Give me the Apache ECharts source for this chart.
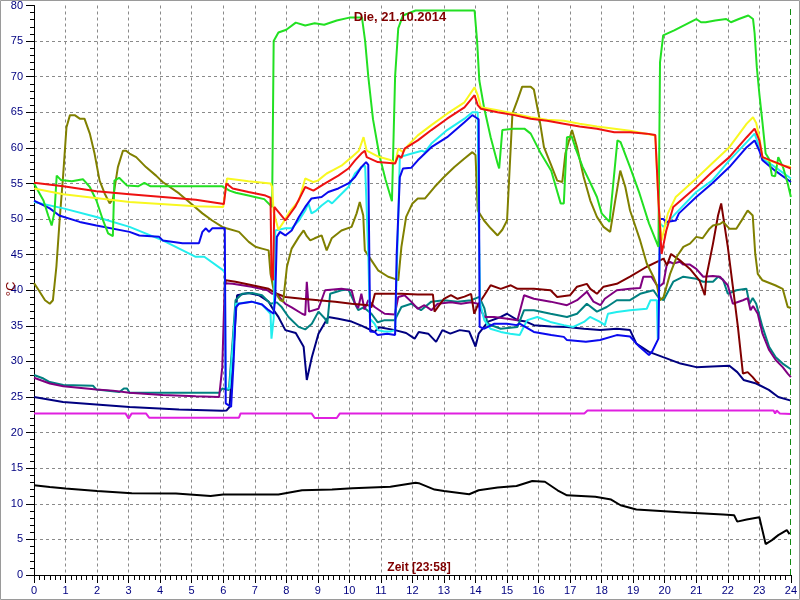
<!DOCTYPE html>
<html>
<head>
<meta charset="utf-8">
<script src="https://cdn.jsdelivr.net/npm/echarts@6/dist/echarts.min.js"></script>
<style>
html,body{margin:0;padding:0;background:#fff;}
#chart{width:800px;height:600px;}
</style>
</head>
<body>
<div id="chart"></div>
<script>
// ---- data: [hour, °C] ----
var titleText = 'Die, 21.10.2014';
var xName = 'Zeit [23:58]';
var yName = '°C';
var nowHour = 23.967;

var green = [[0,55],[0.3,52.6],[0.45,50.5],[0.56,49.1],[0.65,51],[0.72,56.1],[0.85,55.5],[1.2,55.3],[1.55,55.6],[1.77,54.5],[1.98,52.6],[2.19,49.8],[2.35,48.0],[2.5,47.6],[2.55,55.4],[2.7,55.8],[2.95,54.7],[3.3,54.6],[3.5,55.1],[3.7,54.6],[4.5,54.6],[5.97,54.6],[6.2,54.0],[6.4,53.7],[6.8,53.3],[7.0,53.1],[7.3,52.8],[7.55,51.7],[7.6,75],[7.75,76.2],[8.0,76.6],[8.3,77.6],[8.6,77.2],[8.9,77.5],[9.2,77.3],[9.6,77.9],[10.0,78.3],[10.4,78.3],[10.5,75],[10.6,70],[10.75,64],[10.95,59],[11.15,55.5],[11.35,52.5],[11.45,70],[11.55,76.8],[11.7,78.6],[12.1,79.3],[13.97,79.3],[14.05,75],[14.12,69.5],[14.27,65.7],[14.48,61.5],[14.7,57.8],[14.75,57.1],[14.85,62.5],[15.2,62.7],[15.55,62.7],[15.75,62.0],[16.05,59.4],[16.4,56.8],[16.7,52.2],[16.8,52.2],[16.9,61.5],[17.05,61.6],[17.2,59.6],[17.4,57.3],[17.65,55.0],[17.85,53.1],[18.0,50.8],[18.25,49.6],[18.5,61.05],[18.6,60.8],[18.9,57.3],[19.2,53.6],[19.5,49.4],[19.8,46.1],[19.85,72],[19.95,75.8],[20.3,76.5],[21.0,78.1],[21.15,77.65],[21.3,77.65],[21.6,77.9],[21.95,78.1],[22.1,77.65],[22.35,78.1],[22.65,78.6],[22.8,78.1],[22.85,76.1],[22.92,71.3],[23.0,67.6],[23.1,63.5],[23.2,59.2],[23.3,58.5],[23.4,56.1],[23.5,56.0],[23.6,58.7],[23.75,57.3],[23.9,55.0],[24,53.1]];

var yellow = [[0,54.3],[0.93,53.5],[3.03,52.4],[5.13,51.8],[6.0,51.7],[6.05,51.8],[6.12,55.7],[6.5,55.5],[6.8,55.3],[7.5,55.0],[7.55,54.5],[7.6,51],[7.75,48.5],[7.9,49.5],[8.1,51],[8.4,52.6],[8.6,55.7],[8.86,55.2],[9.0,55.4],[9.28,56.4],[9.5,56.9],[9.75,57.5],[10.07,58.7],[10.3,59.6],[10.45,61.5],[10.55,59.6],[10.9,58.8],[11.3,58.3],[11.45,57.8],[11.55,59.9],[11.7,59.4],[11.86,60.35],[12.17,61.75],[12.6,63.2],[13.1,64.8],[13.65,66.4],[13.97,68.5],[14.07,67.4],[14.17,65.7],[14.7,65.3],[15.23,64.8],[15.75,64.3],[16.27,63.95],[16.8,63.8],[17.3,63.4],[17.85,63.0],[18.9,62.4],[19.7,61.75],[19.8,52.6],[19.9,47.0],[20.1,50.8],[20.35,53.1],[21.0,55.7],[21.5,57.8],[22.05,60.1],[22.6,63.4],[22.8,64.3],[22.9,63.5],[23.0,61.5],[23.1,58.7],[23.3,58.25],[23.75,57.5],[24,57.3]];

var red = [[0,55.1],[0.93,54.6],[1.98,53.9],[3.03,53.5],[4.08,53.1],[5.13,52.7],[6.02,52.1],[6.1,55.0],[6.3,54.3],[6.8,53.8],[7.34,53.3],[7.5,53.0],[7.53,42],[7.58,41.4],[7.62,51.7],[7.97,49.8],[8.28,51.7],[8.6,54.5],[8.86,54.0],[9.23,55.0],[9.65,56.1],[9.97,57.1],[10.18,58.25],[10.38,59.2],[10.49,59.6],[10.55,58.7],[10.9,58.0],[11.45,57.8],[11.55,58.95],[11.65,58.6],[11.75,59.9],[12.17,61.05],[12.6,62.5],[13.1,64.1],[13.65,65.7],[13.97,67.4],[14.07,66.0],[14.17,65.5],[14.7,65.0],[15.23,64.6],[15.75,64.1],[16.27,63.8],[16.8,63.4],[17.3,63.0],[17.85,62.7],[18.4,62.2],[18.9,62.2],[19.43,62.0],[19.7,61.8],[19.8,52.6],[19.9,45.1],[20.05,48.4],[20.27,51.7],[21.0,54.5],[21.5,56.6],[22.05,58.7],[22.6,61.5],[22.85,62.7],[23.0,61.05],[23.1,58.7],[23.5,58.0],[24,57.1]];

var blue = [[0,52.6],[0.5,51.5],[0.8,50.5],[1.45,49.6],[1.98,49.1],[3.03,48.2],[3.34,47.7],[3.97,47.5],[4.08,47.0],[4.71,46.6],[5.23,46.6],[5.34,48.2],[5.45,48.7],[5.55,48.2],[5.65,48.7],[6.05,48.7],[6.08,24.1],[6.25,23.6],[6.33,30],[6.4,37.6],[6.5,38.1],[6.9,38.4],[7.23,38.0],[7.44,37.2],[7.6,36.7],[7.65,39],[7.7,47.5],[7.8,48.2],[7.97,47.7],[8.17,48.4],[8.4,50.3],[8.6,51.7],[8.8,52.9],[9.12,53.1],[9.33,53.8],[9.65,54.3],[9.97,55.0],[10.18,55.9],[10.38,57.3],[10.53,58.0],[10.6,57.6],[10.66,34.2],[10.8,34.15],[10.9,33.7],[11.2,33.9],[11.45,33.7],[11.5,45],[11.6,55.9],[11.7,57.1],[11.96,57.2],[12.17,58.25],[12.6,60.1],[13.1,61.5],[13.65,63.6],[13.9,64.6],[14.0,64.3],[14.1,64],[14.13,34.85],[14.28,34.6],[14.6,35.3],[15.0,35.3],[15.3,35.1],[15.4,35.3],[15.85,34.15],[16.4,33.7],[16.8,33.45],[16.9,33.0],[17.5,32.75],[17.95,33.0],[18.48,33.7],[18.9,33.5],[19.2,32.05],[19.5,30.9],[19.6,31.4],[19.8,33.2],[19.85,50.0],[19.95,50.0],[20.05,49.6],[20.35,49.8],[20.45,50.8],[21.0,53.1],[21.5,55.0],[22.05,57.3],[22.6,60.1],[22.85,61.05],[23.0,59.6],[23.1,58.25],[23.5,56.8],[24,55.2]];

var cyan = [[0,52.4],[0.93,51.5],[1.98,50.3],[3.03,48.9],[4.08,47.0],[5.13,44.7],[5.4,44.7],[5.97,42.9],[6.05,42.5],[6.08,26.2],[6.2,26.2],[6.3,32],[6.4,38.1],[6.9,38.4],[7.23,38.0],[7.5,36.7],[7.53,33.2],[7.6,36],[7.65,48.4],[7.97,48.7],[8.17,48.7],[8.4,49.8],[8.6,51.2],[8.7,52.2],[8.8,50.8],[8.95,51.2],[9.12,51.9],[9.33,52.6],[9.45,52.2],[9.65,53.1],[9.97,54.5],[10.18,56.4],[10.38,57.3],[10.5,57.5],[10.6,45],[10.65,36.0],[10.8,35.3],[10.9,34.4],[11.1,34.2],[11.3,34.2],[11.45,34.4],[11.55,50],[11.6,58.7],[11.9,59.1],[12.3,59.6],[12.4,59.4],[12.6,60.6],[13.1,62.5],[13.65,64.1],[13.9,65.0],[14.07,65.0],[14.1,50],[14.15,38.1],[14.28,35.8],[14.47,34.6],[14.8,34.15],[15.1,33.9],[15.4,33.7],[15.5,34.6],[15.64,35.8],[15.96,36.25],[16.37,35.55],[16.8,35.1],[17.1,34.85],[17.44,35.55],[17.63,36.25],[17.95,35.55],[18.1,35.1],[18.2,36.7],[18.48,36.95],[18.9,37.2],[19.43,37.4],[19.55,38.6],[19.75,38.6],[19.78,33.2],[19.82,40],[19.85,49.4],[19.96,48.9],[20.35,50.8],[21.0,53.8],[21.5,55.4],[22.05,58.25],[22.6,60.8],[22.85,62.0],[23.0,60.1],[23.1,58.5],[23.5,57.3],[24,55.7]];

var olive = [[0,41.0],[0.15,40.0],[0.35,38.6],[0.5,38.1],[0.6,38.6],[0.71,43.3],[0.82,50.3],[0.92,55.9],[1.03,62.9],[1.14,64.6],[1.29,64.6],[1.45,64.1],[1.6,64.1],[1.77,62.0],[1.92,59.2],[2.08,55.4],[2.24,53.6],[2.4,52.2],[2.5,52.8],[2.66,57.3],[2.82,59.6],[2.92,59.6],[3.03,59.2],[3.24,58.7],[3.55,57.3],[3.87,56.1],[4.08,55.2],[4.6,53.6],[4.92,52.4],[5.34,50.8],[5.65,49.8],[5.97,48.9],[6.1,48.7],[6.5,48.2],[6.81,46.8],[7.02,46.1],[7.23,45.85],[7.44,45.6],[7.5,42.3],[7.6,40.0],[7.81,38.6],[7.9,38.4],[8.02,43.3],[8.17,45.85],[8.4,47.5],[8.55,48.4],[8.65,47.6],[8.76,47.0],[8.9,47.3],[9.12,47.7],[9.28,45.6],[9.44,47.3],[9.75,48.4],[10.07,48.9],[10.23,50.8],[10.33,52.4],[10.44,50.5],[10.49,45.6],[10.7,44.2],[10.91,42.8],[11.23,41.9],[11.44,41.6],[11.55,41.4],[11.65,46.1],[11.8,50.3],[12.0,52.2],[12.17,52.9],[12.4,52.9],[12.7,54.5],[13.0,55.9],[13.33,57.3],[13.65,58.5],[13.9,59.4],[14.0,59.0],[14.07,51.2],[14.27,49.8],[14.48,48.7],[14.7,47.7],[14.85,48.5],[15.0,49.8],[15.17,64.8],[15.33,66.7],[15.48,68.6],[15.75,68.6],[15.85,68.2],[16.0,64.8],[16.17,60.1],[16.38,57.8],[16.59,55.4],[16.75,55.2],[16.85,59.2],[17.06,62.5],[17.22,60.1],[17.43,55.9],[17.64,52.6],[17.85,50.3],[18.06,48.9],[18.27,48.2],[18.43,52.6],[18.59,56.8],[18.75,54.5],[18.9,51.2],[19.22,47.0],[19.43,43.75],[19.64,41.9],[19.75,40.7],[19.85,38.6],[19.96,39.0],[20.17,42.3],[20.38,44.7],[20.59,46.1],[20.8,46.55],[21.0,47.5],[21.2,47.3],[21.42,48.65],[21.53,49.1],[21.75,49.3],[21.85,49.6],[22.05,48.65],[22.27,48.65],[22.48,50.1],[22.63,51.2],[22.79,50.5],[22.87,45.1],[22.95,42.3],[23.1,41.4],[23.5,40.7],[23.74,40.2],[23.9,37.65],[24,37.5]];

var navy = [[0,25.0],[0.92,24.3],[3.03,23.6],[4.6,23.25],[5.97,23.06],[6.1,23.1],[6.2,23.6],[6.3,30],[6.44,39.3],[6.8,39.6],[7.13,39.3],[7.44,38.4],[7.6,37.2],[7.75,36.25],[7.97,34.4],[8.3,34.0],[8.55,32.05],[8.65,27.4],[8.81,30.6],[9.02,33.9],[9.33,36.25],[9.65,36.0],[10.07,35.6],[10.4,35.0],[10.8,34.15],[10.95,34.8],[11.45,34.4],[11.8,34.0],[12.07,33.2],[12.2,34.15],[12.5,33.9],[12.75,32.75],[12.95,34.4],[13.2,33.9],[13.5,34.4],[13.8,34.2],[14.0,32.1],[14.1,33.9],[14.4,35.6],[14.8,36.25],[15.0,36.7],[15.33,35.8],[15.6,35.6],[15.85,35.1],[16.4,34.9],[16.9,34.85],[17.44,34.6],[17.95,34.4],[18.48,34.6],[18.9,34.4],[19.1,32.5],[19.5,31.35],[19.95,30.6],[20.5,29.7],[21.0,29.2],[21.5,29.3],[22.05,29.4],[22.3,28.5],[22.5,27.4],[22.9,26.9],[23.3,26.0],[23.6,25.0],[24,24.5]];

var purple = [[0,27.7],[0.5,26.9],[0.93,26.5],[1.98,26.05],[2.5,25.9],[3.03,25.6],[4.08,25.3],[5.13,25.1],[5.87,25.0],[5.97,29.2],[6.05,41.0],[6.3,40.9],[6.9,40.5],[7.4,40.0],[7.55,39.5],[7.7,39.5],[7.97,38.1],[8.17,37.6],[8.5,36.7],[8.6,36.5],[8.65,41.2],[8.72,37.0],[9.02,37.4],[9.23,40.0],[9.75,40.2],[10.07,40.0],[10.18,38.1],[10.28,37.5],[10.38,39.5],[10.48,37.3],[10.6,38.6],[10.8,37.65],[11.12,36.7],[11.44,36.6],[11.55,39.06],[11.75,39.3],[11.96,38.4],[12.17,37.4],[12.38,37.9],[12.6,37.2],[12.8,38.1],[13.22,38.3],[13.54,38.1],[13.86,38.3],[14.07,38.1],[14.28,36.25],[14.59,36.25],[15.01,36.0],[15.33,35.8],[15.54,39.3],[15.85,38.8],[16.38,38.4],[16.9,37.9],[17.22,38.6],[17.53,39.8],[17.74,38.4],[17.96,37.9],[18.1,38.8],[18.48,40.0],[18.9,40.2],[19.22,40.3],[19.32,41.9],[19.58,41.9],[19.75,40.7],[19.85,40.6],[19.96,41.0],[20.07,43.75],[20.17,44.0],[20.27,43.75],[20.48,44.0],[20.59,43.6],[20.8,43.6],[21.0,43.0],[21.22,41.9],[21.53,42.0],[21.75,41.9],[22.0,40.7],[22.16,38.1],[22.48,38.6],[22.63,38.9],[22.72,37.2],[22.8,37.8],[22.95,36.7],[23.1,33.9],[23.31,31.6],[23.52,30.2],[23.74,29.2],[23.9,28.3],[24,27.8]];

var teal = [[0,28.1],[0.3,27.6],[0.5,27.1],[0.93,26.7],[1.87,26.6],[1.98,26.05],[2.71,25.7],[2.85,26.2],[2.95,26.2],[3.03,25.6],[4.08,25.6],[5.87,25.6],[5.97,26.2],[6.18,26.0],[6.3,33],[6.39,38.6],[6.6,39.5],[6.92,39.6],[7.23,39.3],[7.5,38.1],[7.7,38.3],[7.86,37.6],[8.07,36.25],[8.39,34.85],[8.6,34.5],[8.81,35.3],[9.02,37.0],[9.23,36.0],[9.3,35.3],[9.39,39.5],[9.75,40.0],[9.97,40.1],[10.18,38.1],[10.28,37.2],[10.45,37.6],[10.7,36.7],[10.9,35.5],[11.12,35.8],[11.44,35.8],[11.65,37.65],[11.96,38.1],[12.27,37.2],[12.6,38.4],[13.0,38.6],[13.43,38.4],[13.86,38.6],[14.12,39.06],[14.28,37.5],[14.38,35.3],[14.8,34.6],[15.33,34.85],[15.54,37.2],[15.85,37.2],[16.38,36.7],[16.9,36.25],[17.22,36.7],[17.53,38.1],[17.85,37.0],[18.16,37.65],[18.48,38.6],[18.9,38.6],[19.22,39.5],[19.64,40.0],[19.8,39.0],[19.96,38.6],[20.27,41.2],[20.59,41.9],[21.0,41.6],[21.22,41.2],[21.53,41.2],[21.69,41.9],[21.85,41.5],[22.0,39.5],[22.27,40.0],[22.59,40.2],[22.69,38.1],[22.79,38.9],[22.9,38.1],[23.1,34.85],[23.31,32.05],[23.52,30.6],[23.74,29.7],[24,28.9]];

var maroon = [[6.05,40.5],[6.08,41.4],[6.39,41.2],[6.92,40.7],[7.44,40.2],[7.7,39.5],[7.97,39.06],[8.5,38.8],[9.02,38.6],[9.55,38.4],[10.07,38.1],[10.6,37.9],[10.7,37.6],[10.81,39.5],[11.12,39.5],[11.65,39.5],[12.17,39.4],[12.65,39.4],[12.7,37.0],[12.85,37.9],[13.0,38.8],[13.22,39.3],[13.43,38.8],[13.65,39.1],[13.86,39.5],[13.96,36.7],[14.07,37.9],[14.28,39.3],[14.48,40.7],[14.8,40.2],[15.12,40.7],[15.33,40.2],[15.85,40.2],[16.38,40.0],[16.59,39.06],[17.0,39.3],[17.22,40.5],[17.53,40.9],[17.64,40.2],[17.85,39.5],[18.06,40.5],[18.48,40.9],[18.9,41.9],[19.43,43.3],[19.85,44.2],[19.96,44.45],[20.07,43.5],[20.2,45.1],[20.48,44.2],[20.8,43.0],[21.1,41.4],[21.27,39.3],[21.32,41.9],[21.53,46.55],[21.69,50.5],[21.79,52.2],[21.85,52.0],[22.0,46.1],[22.16,40.5],[22.32,34.85],[22.48,28.3],[22.63,28.5],[22.79,27.8],[22.9,27.2],[23.0,26.9]];

var magenta = [[0,22.7],[2.9,22.7],[3.0,22.0],[3.1,22.7],[3.55,22.7],[3.65,22.1],[6.5,22.1],[6.55,22.7],[8.8,22.7],[8.9,22.05],[9.6,22.05],[9.7,22.7],[17.45,22.7],[17.55,23.1],[23.45,23.1],[23.5,22.7],[23.55,23.1],[23.65,22.7],[24,22.6]];

var black = [[0,12.6],[0.5,12.35],[1.0,12.15],[2.0,11.8],[3.1,11.5],[4.5,11.45],[5.6,11.1],[6.0,11.3],[7.75,11.3],[8.5,11.9],[9.45,12.0],[10.1,12.2],[11.3,12.4],[12.1,12.95],[12.2,12.9],[12.7,12.0],[13.0,11.8],[13.8,11.35],[14.1,11.9],[14.7,12.3],[15.3,12.5],[15.8,13.2],[16.2,13.1],[16.6,11.9],[16.9,11.2],[17.8,11.0],[18.3,10.6],[18.6,9.8],[19.1,9.2],[20.5,8.8],[21.85,8.5],[22.2,8.4],[22.3,7.5],[22.6,7.8],[23.0,8.1],[23.2,4.35],[23.4,4.9],[23.6,5.6],[23.87,6.3],[23.96,5.75]];

var seriesDefs = [
  {name:'Aussen', data:black, color:'#000000'},
  {name:'Raum', data:magenta, color:'#e020e0'},
  {name:'S9', data:navy, color:'#000080'},
  {name:'S8', data:teal, color:'#008080'},
  {name:'S7', data:purple, color:'#800080'},
  {name:'S10', data:maroon, color:'#800000'},
  {name:'S6', data:olive, color:'#808000'},
  {name:'S5', data:cyan, color:'#22eeee'},
  {name:'S4', data:blue, color:'#0a0aee'},
  {name:'S1', data:green, color:'#22e022'},
  {name:'S2', data:yellow, color:'#f8f820'},
  {name:'S3', data:red, color:'#ee1111'}
];

var chart = echarts.init(document.getElementById('chart'), null, {renderer:'canvas'});
var FONT = 'Liberation Sans, Arial, sans-serif';
var series = seriesDefs.map(function(s, i){
  var o = {
    name: s.name, type:'line', data: s.data, showSymbol:false, symbol:'none',
    lineStyle:{color:s.color, width:2}, itemStyle:{color:s.color},
    silent:true, animation:false, z: 2 + i
  };
  if (i === 0) {
    o.markLine = {
      silent:true, symbol:'none', label:{show:false},
      lineStyle:{color:'#108a10', type:[6,4], width:1},
      data:[{xAxis: nowHour}]
    };
  }
  return o;
});

chart.setOption({
  backgroundColor:'#ffffff',
  animation:false,
  grid:{left:34, right:5, top:5, bottom:25, containLabel:false},
  xAxis:{
    type:'value', min:0, max:24, interval:1,
    axisLine:{show:true, onZero:false, lineStyle:{color:'#000', width:1}},
    axisTick:{show:true, length:8, lineStyle:{color:'#000'}},
    minorTick:{show:true, splitNumber:6, length:5, lineStyle:{color:'#000'}},
    axisLabel:{color:'#000080', fontSize:11, fontFamily:FONT, margin:10},
    splitLine:{show:true, showMinLine:false, showMaxLine:false, lineStyle:{color:'#8a8a8a', type:[3,3], width:1}}
  },
  yAxis:{
    type:'value', min:0, max:80, interval:5,
    axisLine:{show:true, onZero:false, lineStyle:{color:'#000', width:1}},
    axisTick:{show:true, length:8, lineStyle:{color:'#000'}},
    minorTick:{show:true, splitNumber:5, length:4, lineStyle:{color:'#000'}},
    axisLabel:{color:'#000080', fontSize:11, fontFamily:FONT, margin:11},
    splitLine:{show:true, showMinLine:false, showMaxLine:false, lineStyle:{color:'#8a8a8a', type:[3,3], width:1}}
  },
  graphic:[
    {type:'rect', silent:true, z:100, shape:{x:0.5, y:0.5, width:799, height:599}, style:{fill:'none', stroke:'#9a9a9a', lineWidth:1}},
    {type:'text', silent:true, z:100, x:400, y:17, style:{text:titleText, fill:'#800000', font:'bold 13px ' + FONT, textAlign:'center', textVerticalAlign:'middle'}},
    {type:'text', silent:true, z:100, x:419, y:568, style:{text:xName, fill:'#800000', font:'bold 12px ' + FONT, textAlign:'center', textVerticalAlign:'middle'}},
    {type:'text', silent:true, z:100, x:11, y:289, rotation:Math.PI/2, style:{text:yName, fill:'#800000', font:'13px ' + FONT, textAlign:'center', textVerticalAlign:'middle'}}
  ],
  series: series
});
</script>
</body>
</html>
